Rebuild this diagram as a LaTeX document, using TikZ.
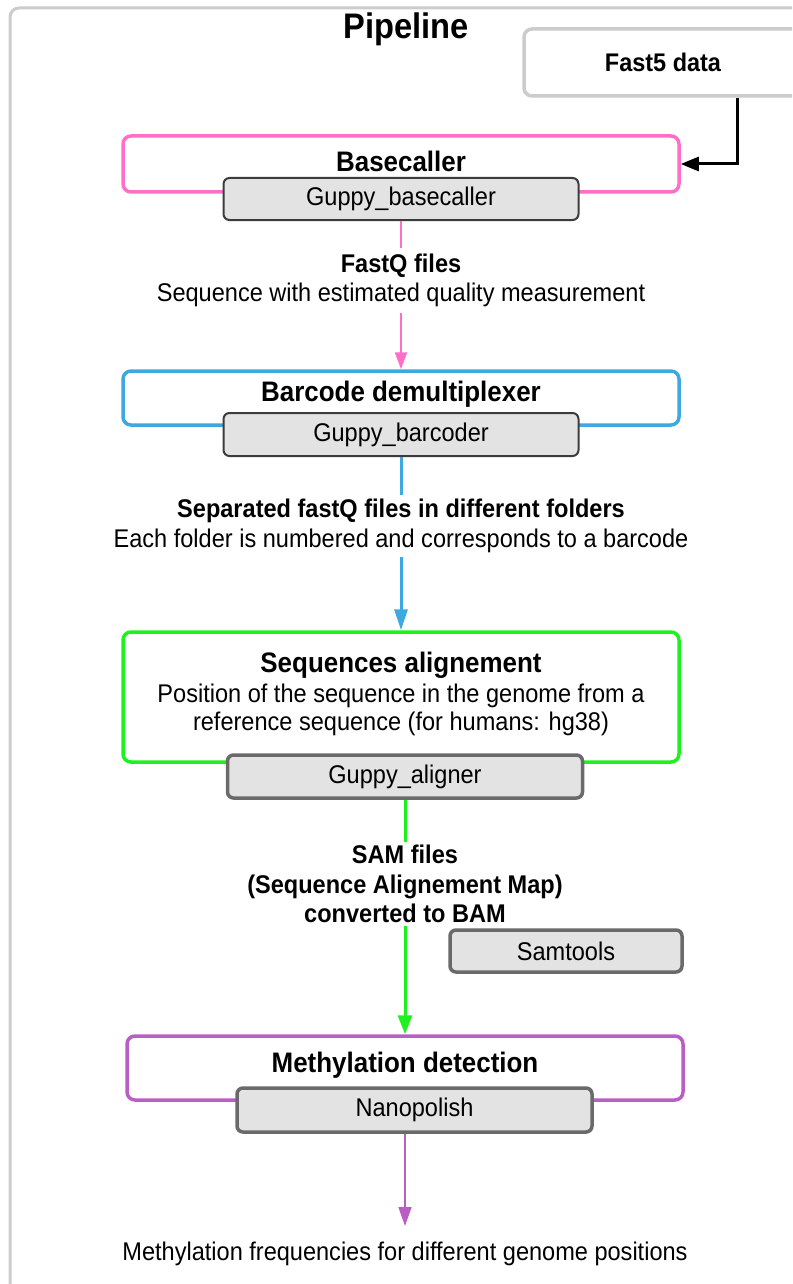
\documentclass[tikz,border=0pt]{standalone}
\usepackage{fontspec}
\setmainfont{Liberation Sans}[FakeStretch=0.92]
\usetikzlibrary{arrows.meta,calc}
\definecolor{framec}{HTML}{CCCCCC}
\definecolor{pinkc}{HTML}{FF6EC7}
\definecolor{bluec}{HTML}{3EA8E0}
\definecolor{greenc}{HTML}{1EF21E}
\definecolor{purplec}{HTML}{BB5DC7}
\definecolor{toolfill}{HTML}{E3E3E3}
\definecolor{tooldark}{HTML}{3C3C3C}
\definecolor{toolmid}{HTML}{6A6A6A}
\begin{document}
\begin{tikzpicture}[x=1pt,y=-1pt,
  stage/.style={draw, rounded corners=8pt, line width=3.5pt, minimum width=556pt, fill=white, inner sep=0pt},
  tool/.style={draw, rounded corners=6pt, fill=toolfill, minimum width=355pt, minimum height=42pt, inner sep=0pt, font=\fontsize{25.6}{30}\selectfont},
  head/.style={font=\bfseries\fontsize{28.2}{32}\selectfont, inner sep=0pt},
  lbl/.style={align=center, font=\fontsize{25.6}{29.5}\selectfont},
  body/.style={align=center, font=\fontsize{25.6}{28}\selectfont, inner sep=0pt},
]
\useasboundingbox (0,0) rectangle (792,1284);
\clip (0,0) rectangle (792,1284);
\fill[white] (0,0) rectangle (792,1284);
% outer frame
\draw[framec, line width=3pt, rounded corners=9pt] (10,1320) -- (10,8) -- (830,8);
% title
\node[font=\bfseries\fontsize{35.5}{40}\selectfont, inner sep=0pt] (title) at (406,29) {Pipeline};
% Fast5
\node[draw=framec, line width=3.5pt, rounded corners=8pt, minimum width=278pt, minimum height=67pt,
      font=\bfseries\fontsize{25.5}{30}\selectfont, fill=white] (f5) at (663,62.5) {Fast5 data};
% Basecaller
\node[stage, draw=pinkc, minimum height=56pt] (bc) at (401,164) {};
\node[head] (bct) at (401,161) {Basecaller};
\node[tool, draw=tooldark, line width=2pt] (gb) at (401,199) {Guppy\_basecaller};
\node[lbl, inner sep=6pt] (fq) at (401,280.5) {\textbf{FastQ files}\\Sequence with estimated quality measurement};
% Barcode
\node[stage, draw=bluec, minimum height=54pt] (bar) at (401,398) {};
\node[head] (bart) at (401,394) {Barcode demultiplexer};
\node[tool, draw=tooldark, line width=2pt, minimum height=43pt] (gbar) at (401,434.5) {Guppy\_barcoder};
\node[lbl, inner sep=4pt] (sep) at (401,526) {\textbf{Separated fastQ files in different folders}\\Each folder is numbered and corresponds to a barcode};
% Alignment
\node[stage, draw=greenc, minimum height=130pt] (sa) at (401,697) {};
\node[head] (sat) at (401,665) {Sequences alignement};
\node[body] (sab) at (401,710) {Position of the sequence in the genome from a\\reference sequence (for humans: hg38)};
\node[tool, draw=toolmid, line width=3.5pt, minimum height=43pt] (ga) at (405,776.5) {Guppy\_aligner};
\node[lbl, inner sep=3pt, font=\bfseries\fontsize{25.6}{29.5}\selectfont] (sam) at (405,884) {SAM files\\(Sequence Alignement Map)\\converted to BAM};
\node[tool, draw=toolmid, line width=3.5pt, minimum width=232pt] (st) at (566,951) {Samtools};
% Methylation
\node[stage, draw=purplec, minimum height=64pt] (md) at (405,1068) {};
\node[head] (mdt) at (405,1065) {Methylation detection};
\node[tool, draw=toolmid, line width=3.5pt, minimum height=44pt] (np) at (414.5,1110) {Nanopolish};
\node[lbl, anchor=north, inner xsep=0pt, inner ysep=16pt] (out) at (405,1226) {Methylation frequencies for different genome positions};
% connectors
\draw[line width=3pt, -{Triangle[length=18pt,width=14pt]}] ([xshift=74pt]f5.south) |- (bc.east);
\draw[pinkc, line width=2.5pt] (gb.south) -- (fq.north);
\draw[pinkc, line width=2.5pt, -{Triangle[length=17pt,width=12pt]}] (fq.south) -- (bar.north);
\draw[bluec, line width=3pt] (gbar.south) -- (sep.north);
\draw[bluec, line width=3pt, -{Triangle[length=21pt,width=13pt]}] (sep.south) -- (sa.north);
\draw[greenc, line width=3pt] (ga.south) -- (sam.north);
\draw[greenc, line width=3pt, -{Triangle[length=19pt,width=14pt]}] (sam.south) -- (md.north);
\draw[purplec, line width=1.6pt, -{Triangle[length=19pt,width=13pt]}] (np.south -| md.south) -- (out.north);
\end{tikzpicture}
\end{document}
